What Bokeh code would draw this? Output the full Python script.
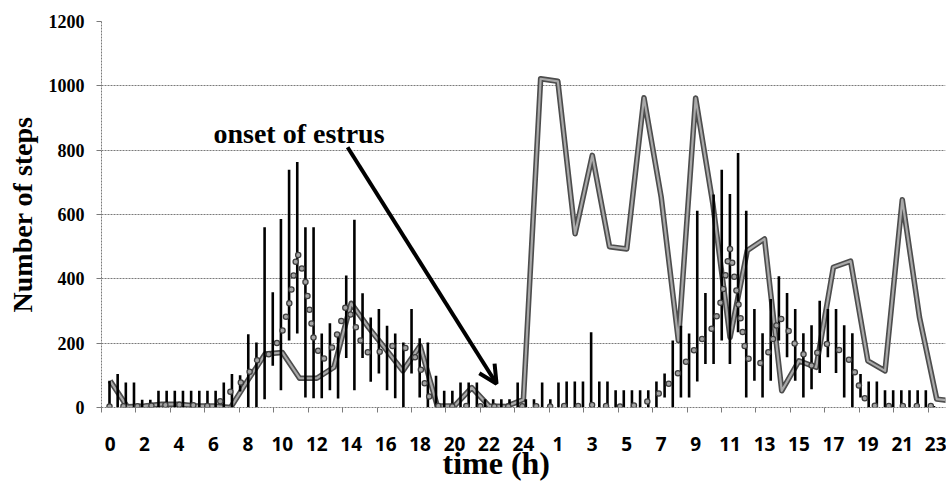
from bokeh.plotting import figure
from bokeh.models import Range1d, FixedTicker, Arrow, OpenHead, Label, Title
from bokeh.embed import file_html
from bokeh.resources import INLINE

# ---- data -------------------------------------------------------------
# hourly steps of the observed cow (day of onset of estrus + following day)
hour_idx = list(range(50))
cow_steps = [83, 2, 5, 10, 10, 5, 5, 0, 85, 166, 171, 91, 91, 125, 324, 249, 182, 114, 192, 5,
             5, 62, 5, 3, 25,
             1022, 1014, 540, 784, 500, 493, 963, 654, 208, 962, 633, 218, 488, 524, 52,
             145, 125, 436, 455, 145, 114, 646, 280, 26, 20]

# reference profile (mean, with upper / lower ends of the error bars)
ref_idx = list(range(102))
ref_mean = [3, 5, 3, 3, 5, 5, 8, 8, 10, 8,
            8, 5, 5, 10, 26, 54, 75, 104, 147, 150,
            180, 220, 320, 485, 391, 216, 145, 170, 235, 320,
            262, 190, 162, 172, 182, 196, 188, 176, 130, 40,
            5, 3, 3, 5, 5, 5, 3, 3, 3, 3,
            5, 3, 3, 5, 3, 5, 5, 5, 5, 8,
            5, 5, 3, 3, 5, 10, 20, 36, 62, 85,
            119, 156, 192, 228, 250, 340, 495, 330, 158, 135,
            140, 185, 285, 249, 195, 166, 130, 187, 199, 185,
            168, 135, 52, 8, 5, 5, 5, 5, 5, 5,
            5, 5]
ref_hi = [83, 104, 78, 78, 24, 24, 52, 52, 52, 52,
          52, 52, 52, 52, 78, 104, 100, 228, 202, 560,
          358, 586, 739, 763, 560, 560, 230, 262, 230, 410,
          584, 355, 280, 306, 254, 230, 202, 306, 215, 202,
          99, 52, 52, 78, 78, 78, 26, 26, 26, 26,
          78, 26, 26, 78, 26, 78, 81, 81, 81, 234,
          81, 81, 54, 54, 54, 54, 54, 81, 106, 208,
          254, 230, 612, 356, 662, 739, 664, 791, 612, 306,
          231, 337, 408, 356, 306, 231, 256, 332, 306, 306,
          256, 231, 104, 81, 81, 54, 54, 54, 54, 54,
          54, 5]
ref_lo = [0, 0, 0, 0, 0, 0, 0, 0, 0, 0,
          0, 0, 0, 0, 0, 0, 50, 0, 0, 26,
          130, 54, 208, 230, 31, 29, 29, 54, 28, 154,
          54, 154, 80, 106, 54, 29, 0, 106, 31, 0,
          0, 0, 0, 0, 0, 0, 0, 0, 0, 0,
          0, 0, 0, 0, 0, 0, 0, 0, 0, 0,
          0, 0, 0, 0, 0, 0, 0, 0, 31, 0,
          31, 31, 81, 135, 135, 208, 135, 234, 31, 83,
          31, 83, 208, 156, 83, 31, 57, 107, 156, 107,
          31, 0, 31, 0, 0, 0, 0, 0, 0, 0,
          0, 0]

x_tick_pos = [0, 2, 4, 6, 8, 10, 12, 14, 16, 18, 20, 22, 24,
              26, 28, 30, 32, 34, 36, 38, 40, 42, 44, 46, 48]
x_tick_labels = ["0", "2", "4", "6", "8", "10", "12", "14", "16", "18", "20", "22", "24",
                 "1", "3", "5", "7", "9", "11", "13", "15", "17", "19", "21", "23"]
y_ticks = [0, 200, 400, 600, 800, 1000, 1200]

# ---- figure -----------------------------------------------------------
p = figure(width=946, height=485, output_backend="svg", toolbar_location=None,
           x_range=Range1d(-0.5, 48.51), y_range=Range1d(0, 1200),
           min_border_left=101, min_border_right=1, min_border_top=21, min_border_bottom=78)
p.extra_x_ranges = {"ref": Range1d(-0.98, 102.41)}
p.outline_line_color = None

GRID = "#7a7a7a"
p.xgrid.visible = False
p.ygrid.ticker = FixedTicker(ticks=y_ticks)
p.ygrid.grid_line_color = GRID
p.ygrid.grid_line_dash = "2 1"

# x axis
xa = p.xaxis[0]
xa.ticker = FixedTicker(ticks=x_tick_pos, minor_ticks=[t - 0.5 for t in x_tick_pos])
xa.major_label_overrides = {t: s for t, s in zip(x_tick_pos, x_tick_labels)}
xa.major_tick_out = 0
xa.major_tick_in = 0
xa.minor_tick_out = 5
xa.minor_tick_in = 0
xa.minor_tick_line_color = GRID
xa.axis_line_color = GRID
xa.axis_line_dash = "2 1"
xa.major_label_standoff = 24
xa.major_label_text_font = "Open Sans"
xa.major_label_text_font_style = "bold"
xa.major_label_text_font_size = "19px"
xa.major_label_text_color = "black"

# y axis
ya = p.yaxis[0]
ya.ticker = FixedTicker(ticks=y_ticks)
ya.major_tick_out = 5
ya.major_tick_in = 0
ya.major_tick_line_color = GRID
ya.minor_tick_line_color = None
ya.axis_line_color = GRID
ya.axis_line_dash = "2 1"
ya.major_label_standoff = 12
ya.major_label_text_font = "Liberation Serif"
ya.major_label_text_font_style = "bold"
ya.major_label_text_font_size = "18px"
ya.major_label_text_color = "black"
ya.axis_label = "Number of steps"
ya.axis_label_text_font = "Liberation Serif"
ya.axis_label_text_font_style = "bold"
ya.axis_label_text_font_size = "28px"
ya.axis_label_text_color = "black"
ya.axis_label_standoff = 8

# x axis title (placed a little left of the frame centre, as in the original)
p.add_layout(Title(text="time (h)", align="left", offset=341, standoff=-21,
                   text_font="Liberation Serif", text_font_style="bold",
                   text_font_size="32px", text_color="black"), "below")

# ---- glyphs -----------------------------------------------------------
p.line(hour_idx, cow_steps, line_width=5.5, color="#4d4d4d", line_join="round")
p.line(hour_idx, cow_steps, line_width=2.2, color="#a9a9a9", line_join="round")

p.segment(x0=ref_idx, y0=ref_lo, x1=ref_idx, y1=ref_hi, x_range_name="ref",
          line_width=2.6, color="black")

p.line(ref_idx, ref_mean, x_range_name="ref", line_width=6.5, color="#3d3d3d",
       line_dash="0 14", line_cap="round", line_join="round")
p.line(ref_idx, ref_mean, x_range_name="ref", line_width=4, color="#a3a3a3",
       line_dash="0 14", line_cap="round", line_join="round")

# ---- annotations ------------------------------------------------------
p.add_layout(Label(x=6.0, y=853, text="onset of estrus", text_align="left",
                   text_baseline="alphabetic", text_font="Liberation Serif",
                   text_font_style="bold", text_font_size="28px", text_color="black"))
p.add_layout(Arrow(end=OpenHead(size=18, line_width=4, line_color="black"),
                   x_start=13.79, y_start=809, x_end=22.44, y_end=74,
                   line_width=4, line_color="black"))

open("out.html", "w").write(file_html(p, INLINE))
